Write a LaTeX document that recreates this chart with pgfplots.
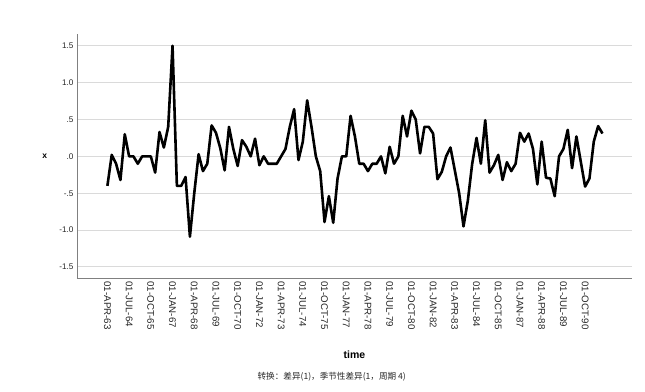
\documentclass[border=0pt]{standalone}
\usepackage{fontspec}
\setmainfont{Liberation Sans}
\newfontfamily\cjk{Noto Sans CJK SC}
\usepackage{pgfplots}
\pgfplotsset{compat=1.18}
\definecolor{gridgray}{RGB}{218,218,218}
\definecolor{axisgray}{RGB}{128,128,128}
\pgfplotstableread{
i v
0 -0.40
1 0.02
2 -0.10
3 -0.32
4 0.30
5 0.00
6 0.00
7 -0.10
8 0.00
9 0.00
10 0.00
11 -0.22
12 0.33
13 0.12
14 0.40
15 1.50
16 -0.40
17 -0.40
18 -0.28
19 -1.09
20 -0.50
21 0.03
22 -0.20
23 -0.10
24 0.42
25 0.32
26 0.11
27 -0.19
28 0.40
29 0.10
30 -0.13
31 0.22
32 0.13
33 0.00
34 0.24
35 -0.12
36 0.00
37 -0.10
38 -0.10
39 -0.10
40 0.00
41 0.10
42 0.40
43 0.64
44 -0.05
45 0.20
46 0.76
47 0.40
48 0.00
49 -0.20
50 -0.89
51 -0.54
52 -0.90
53 -0.30
54 0.00
55 0.00
56 0.55
57 0.27
58 -0.10
59 -0.10
60 -0.20
61 -0.10
62 -0.10
63 0.00
64 -0.23
65 0.13
66 -0.10
67 0.00
68 0.55
69 0.27
70 0.62
71 0.50
72 0.04
73 0.40
74 0.40
75 0.31
76 -0.31
77 -0.21
78 0.00
79 0.12
80 -0.19
81 -0.50
82 -0.95
83 -0.60
84 -0.10
85 0.25
86 -0.10
87 0.49
88 -0.22
89 -0.12
90 0.02
91 -0.32
92 -0.08
93 -0.20
94 -0.10
95 0.32
96 0.20
97 0.31
98 0.10
99 -0.38
100 0.20
101 -0.29
102 -0.30
103 -0.54
104 0.00
105 0.10
106 0.36
107 -0.16
108 0.27
109 -0.07
110 -0.41
111 -0.30
112 0.20
113 0.41
114 0.31
}\datatable
\begin{document}
\begin{tikzpicture}
\useasboundingbox (-77pt,-113pt) rectangle (568pt,278pt);
\begin{axis}[
  at={(0pt,0pt)}, anchor=south west,
  scale only axis, width=555pt, height=244pt,
  xmin=-7, xmax=120.8, ymin=-1.65, ymax=1.66,
  axis x line=bottom, axis y line=left,
  axis line style={-, draw=axisgray, line width=0.8pt},
  major tick length=0pt,
  ymajorgrids, grid style={draw=gridgray, line width=0.9pt},
  xtick={0,5,...,110},
  xticklabels={01-APR-63,01-JUL-64,01-OCT-65,01-JAN-67,01-APR-68,01-JUL-69,01-OCT-70,01-JAN-72,01-APR-73,01-JUL-74,01-OCT-75,01-JAN-77,01-APR-78,01-JUL-79,01-OCT-80,01-JAN-82,01-APR-83,01-JUL-84,01-OCT-85,01-JAN-87,01-APR-88,01-JUL-89,01-OCT-90},
  x tick label style={rotate=-90, anchor=west, font=\fontsize{9.7}{11}\selectfont, text=black!85},
  ytick={-1.5,-1,-0.5,0,0.5,1,1.5},
  yticklabels={-1.5,-1.0,-.5,.0,.5,1.0,1.5},
  y tick label style={font=\fontsize{8.2}{9}\selectfont, text=black!85},
  clip=false,
]
\addplot[black, line width=2.6pt, line join=round, mark=none] table[x=i, y=v] {\datatable};
\node[font=\bfseries\fontsize{8.5}{10}\selectfont] at (axis description cs:-0.058,0.5) {x};
\node[font=\bfseries\fontsize{10.5}{12}\selectfont] at (axis description cs:0.5,-0.316) {time};
\node[font=\cjk\fontsize{8.6}{10}\selectfont, text=black!85] at (axis description cs:0.459,-0.406) {转换：差异(1)，季节性差异(1，周期 4)};
\end{axis}
\end{tikzpicture}
\end{document}
